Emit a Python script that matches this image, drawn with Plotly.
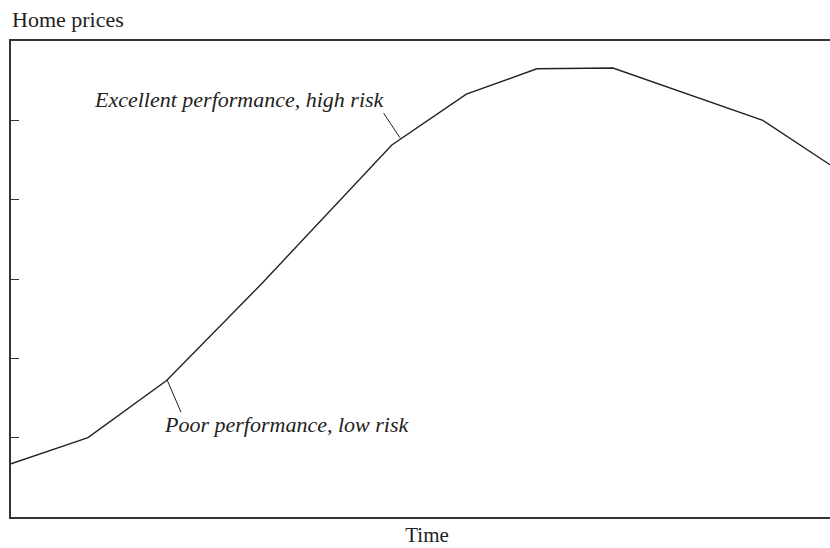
import plotly.graph_objects as go

# Data (time in arbitrary units, price index 0-6)
time = [0, 9.4, 19.0, 30.6, 46.5, 55.6, 64.2, 73.5, 91.8, 100]
price = [0.67, 1.0, 1.72, 2.94, 4.69, 5.33, 5.65, 5.66, 5.0, 4.44]
y_ticks = [1, 2, 3, 4, 5]

labels = ["Excellent performance, high risk", "Poor performance, low risk"]
label_x = [27.96, 33.6]
label_y = [5.26, 1.17]
# leader lines: (start x, start y, end x, end y)
leader_x0 = [45.5, 19.05]
leader_y0 = [5.09, 1.73]
leader_x1 = [47.5, 20.76]
leader_y1 = [4.78, 1.32]

SERIF = "Liberation Serif, Times New Roman, serif"
INK = "#222222"

fig = go.Figure()
fig.add_trace(go.Scatter(x=time, y=price, mode="lines",
                         line=dict(color=INK, width=1.4),
                         hoverinfo="skip", showlegend=False))

for i, t in enumerate(labels):
    fig.add_annotation(x=label_x[i], y=label_y[i], text=f"<i>{t}</i>",
                       showarrow=False, xanchor="center", yanchor="middle",
                       font=dict(family=SERIF, size=22, color=INK))
    fig.add_shape(type="line", x0=leader_x0[i], y0=leader_y0[i],
                  x1=leader_x1[i], y1=leader_y1[i],
                  line=dict(color=INK, width=1))

fig.update_layout(
    width=845, height=548,
    margin=dict(l=11, r=2, t=41, b=31),
    paper_bgcolor="white", plot_bgcolor="white",
    title=dict(text="Home prices", x=12/845, xanchor="left", xref="container",
               y=1-19/548, yanchor="middle", yref="container",
               font=dict(family=SERIF, size=22, color=INK)),
    font=dict(family=SERIF, color=INK),
    hovermode=False,
)
fig.update_xaxes(range=[0, 101.59], showgrid=False, zeroline=False,
                 showline=True, linecolor="#333333", linewidth=1.5, mirror=True,
                 showticklabels=False, ticks="",
                 title=dict(text="Time", standoff=10,
                            font=dict(family=SERIF, size=21, color=INK)))
fig.update_yaxes(range=[0, 6], showgrid=False, zeroline=False,
                 showline=True, linecolor="#333333", linewidth=1.5, mirror=False,
                 tickvals=y_ticks, ticks="inside", ticklen=8, tickwidth=1.3,
                 tickcolor="#333333", showticklabels=False)

fig.write_html("out.html",
               config={"displayModeBar": False},
               post_script="document.body.style.margin='0';"
                           "document.body.style.overflow='hidden';")
